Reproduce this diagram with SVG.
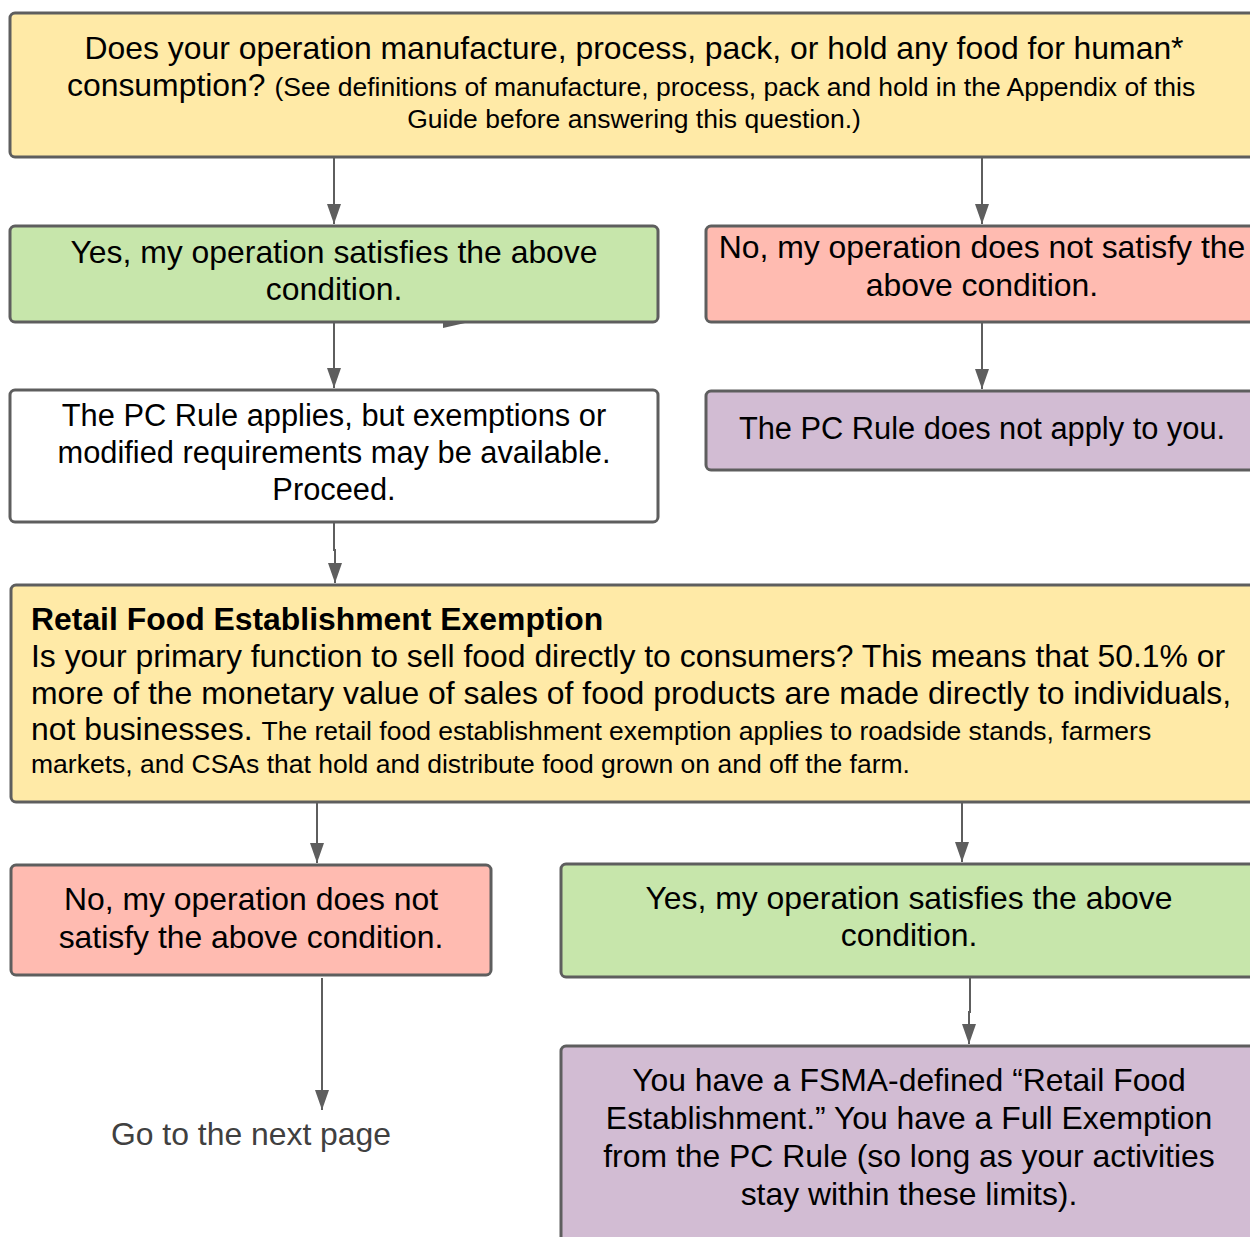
<svg xmlns="http://www.w3.org/2000/svg" width="1250" height="1237" viewBox="0 0 1250 1237">
<style>
.box{stroke:#5e5e5e;stroke-width:3}
.y{fill:#ffeaa7}.g{fill:#c7e6ab}.r{fill:#ffbbb1}.w{fill:#ffffff}.p{fill:#d2bcd3}
text{font-family:"Liberation Sans",Arial,sans-serif;fill:#000}
.t{font-size:31.9px}.s{font-size:26.5px}.m{font-size:30.8px}
.c{text-anchor:middle}
.conn line,.conn path{stroke:#5e5e5e;stroke-width:2;fill:none}
</style>
<defs>
<marker id="ah" viewBox="0 0 20 14" refX="20" refY="7" markerWidth="20" markerHeight="14" markerUnits="userSpaceOnUse" orient="auto">
<path d="M0,0 L20,7 L0,14 Z" fill="#5e5e5e"/>
</marker>
</defs>
<rect width="1250" height="1237" fill="#ffffff"/>
<g class="conn">
<line x1="334" y1="158" x2="334" y2="224" marker-end="url(#ah)"/>
<line x1="982" y1="158" x2="982" y2="224" marker-end="url(#ah)"/>
<line x1="334" y1="323" x2="334" y2="388" marker-end="url(#ah)"/>
<line x1="982" y1="323" x2="982" y2="389" marker-end="url(#ah)"/>
<path d="M334,523 L334,550 L335,550 L335,583" marker-end="url(#ah)"/>
<line x1="317" y1="803" x2="317" y2="863" marker-end="url(#ah)"/>
<line x1="962" y1="803" x2="962" y2="862" marker-end="url(#ah)"/>
<line x1="322" y1="978" x2="322" y2="1110" marker-end="url(#ah)"/>
<path d="M970,978 L970,1012 L969,1012 L969,1044" marker-end="url(#ah)"/>
<path d="M443,318 L465,323 L443,328 Z" style="fill:#5e5e5e;stroke:none"/>
</g>
<g id="n1">
<rect class="box y" x="10" y="13" width="1260" height="144" rx="5"/>
<text class="t c" x="634" y="59">Does your operation manufacture, process, pack, or hold any food for human*</text>
<text x="67" y="96"><tspan class="t">consumption? </tspan><tspan class="s">(See definitions of manufacture, process, pack and hold in the Appendix of this</tspan></text>
<text class="s c" x="634" y="128">Guide before answering this question.)</text>
</g>
<g id="n2">
<rect class="box g" x="10" y="226" width="648" height="96" rx="5"/>
<text class="t c" x="334" y="263">Yes, my operation satisfies the above</text>
<text class="t c" x="334" y="300">condition.</text>
</g>
<g id="n3">
<rect class="box r" x="706" y="226" width="564" height="96" rx="5"/>
<text class="t c" x="982" y="258">No, my operation does not satisfy the</text>
<text class="t c" x="982" y="296">above condition.</text>
</g>
<g id="n4">
<rect class="box w" x="10" y="390" width="648" height="132" rx="5"/>
<text class="m c" x="334" y="426">The PC Rule applies, but exemptions or</text>
<text class="m c" x="334" y="463">modified requirements may be available.</text>
<text class="m c" x="334" y="500">Proceed.</text>
</g>
<g id="n5">
<rect class="box p" x="706" y="391" width="564" height="79" rx="5"/>
<text class="m c" x="982" y="439">The PC Rule does not apply to you.</text>
</g>
<g id="n6">
<rect class="box y" x="11" y="585" width="1259" height="217" rx="5"/>
<text class="t" x="31" y="630" font-weight="bold">Retail Food Establishment Exemption</text>
<text class="t" x="31" y="667">Is your primary function to sell food directly to consumers? This means that 50.1% or</text>
<text class="t" x="31" y="704">more of the monetary value of sales of food products are made directly to individuals,</text>
<text x="31" y="740"><tspan class="t">not businesses. </tspan><tspan class="s">The retail food establishment exemption applies to roadside stands, farmers</tspan></text>
<text class="s" x="31" y="773">markets, and CSAs that hold and distribute food grown on and off the farm.</text>
</g>
<g id="n7">
<rect class="box r" x="11" y="865" width="480" height="110" rx="5"/>
<text class="t c" x="251" y="910">No, my operation does not</text>
<text class="t c" x="251" y="948">satisfy the above condition.</text>
</g>
<g id="n8">
<rect class="box g" x="561" y="864" width="709" height="113" rx="5"/>
<text class="t c" x="909" y="909">Yes, my operation satisfies the above</text>
<text class="t c" x="909" y="946">condition.</text>
</g>
<g id="n9">
<text class="t c" x="251" y="1145" style="fill:#404040">Go to the next page</text>
</g>
<g id="n10">
<rect class="box p" x="561" y="1046" width="709" height="210" rx="5"/>
<text class="t c" x="909" y="1091">You have a FSMA-defined “Retail Food</text>
<text class="t c" x="909" y="1129">Establishment.” You have a Full Exemption</text>
<text class="t c" x="909" y="1167">from the PC Rule (so long as your activities</text>
<text class="t c" x="909" y="1205">stay within these limits).</text>
</g>
</svg>
